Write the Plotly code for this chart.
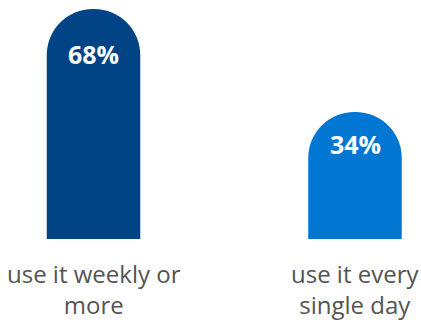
import plotly.graph_objects as go

categories = ["use it weekly or more", "use it every single day"]
tick_labels = ["use it weekly or<br>more", "use it every<br>single day"]
values = [68, 34]
value_labels = ["68%", "34%"]

colors = ["#014486", "#0176D3"]
STUB = 8  # visual stub added under every bar (style offset)
label_shift = [-45, -32]

fig = go.Figure()
fig.add_trace(go.Bar(
    x=categories,
    y=[v + STUB for v in values],
    width=0.3576,
    marker=dict(color=colors, cornerradius="50%", line=dict(width=0)),
    hoverinfo="skip",
))

for cat, v, lab, s in zip(categories, values, value_labels, label_shift):
    fig.add_annotation(x=cat, y=v + STUB, text=lab, showarrow=False, yanchor="middle",
                       yshift=s, font=dict(family="Open Sans", size=25, color="white",
                                           weight="bold"))

for cat, lab in zip(categories, tick_labels):
    fig.add_annotation(x=cat, y=0, yref="paper", text=lab, showarrow=False,
                       yanchor="top", yshift=-16,
                       font=dict(family="Open Sans", size=24, color="#545454"))

fig.update_layout(
    width=421, height=324,
    margin=dict(l=0, r=0, t=0, b=85),
    paper_bgcolor="white", plot_bgcolor="white",
    showlegend=False,
    xaxis=dict(type="category", range=[-0.3576, 1.2524], showticklabels=False,
               showgrid=False, zeroline=False, showline=False, fixedrange=True),
    yaxis=dict(range=[0, 79], visible=False, showgrid=False, zeroline=False,
               fixedrange=True),
)

fig.write_html("out.html", config={"displayModeBar": False},
               post_script="document.body.style.margin='0';")
